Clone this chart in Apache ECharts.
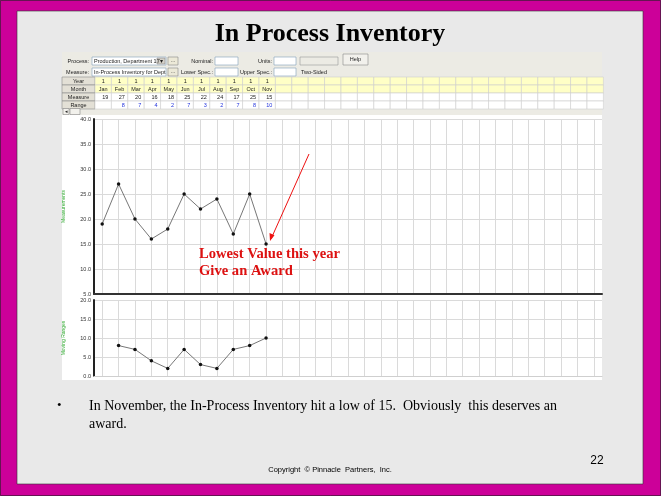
<!DOCTYPE html>
<html>
<head>
<meta charset="utf-8">
<script src="https://cdn.jsdelivr.net/npm/echarts@6/dist/echarts.min.js"></script>
<style>
html, body { margin: 0; padding: 0; background: #cc0099; }
#main { width: 661px; height: 496px; }
</style>
</head>
<body>
<div id="main"></div>
<script>
var months = ["Jan", "Feb", "Mar", "Apr", "May", "Jun", "Jul", "Aug", "Sep", "Oct", "Nov"];
var years = [1, 1, 1, 1, 1, 1, 1, 1, 1, 1, 1];
var measures = [19, 27, 20, 16, 18, 25, 22, 24, 17, 25, 15];
var ranges = [null, 8, 7, 4, 2, 7, 3, 2, 7, 8, 10];
var slotCount = 31;

// category slots: the months, then empty columns to the right
var slots = months.slice();
while (slots.length < slotCount) slots.push("");

var uiFont = "Liberation Sans";
var serif = "Liberation Serif";

function txt(x, y, s, o) {
    o = o || {};
    return {
        type: "text", z: o.z || 1,
        style: {
            text: s, x: x, y: y,
            fontSize: o.size || 5.5, fontFamily: o.family || uiFont,
            fontWeight: o.weight || "normal", fill: o.color || "#222",
            textAlign: o.align || "left", align: o.align || "left",
            textVerticalAlign: "middle", verticalAlign: "middle"
        }
    };
}
function box(x, y, w, h, fill, stroke, z) {
    return {
        type: "rect", z: z || 0,
        shape: { x: x, y: y, width: w, height: h },
        style: { fill: fill, stroke: stroke || null, lineWidth: stroke ? 0.6 : 0 }
    };
}

var g = [];
// slide
g.push(box(0.5, 0.5, 660, 495, "#cc0099", "#222", -5));
g.push(box(17, 11, 626, 473, "#e9e9e9", "#333", -5));
g.push(txt(330, 34, "In Process Inventory", { size: 26, family: serif, weight: "bold", color: "#000", align: "center" }));

// screenshot toolbar
g.push(box(62, 52, 540, 25, "#ecebe4", null, -4));
g.push(txt(89, 61, "Process:", { align: "right" }));
g.push(txt(89, 72, "Measure:", { align: "right" }));
g.push(box(92, 57, 74, 8, "#fff", "#7f9db9", -3));
g.push(txt(94, 61, "Production, Department 17"));
g.push(box(157, 58, 8, 6, "#d4d0c8", "#888", -2));
g.push(txt(161, 61, "\u25BE", { align: "center", size: 6 }));
g.push(box(168, 57, 10, 8, "#ece9d8", "#888", -3));
g.push(txt(173, 60, "...", { align: "center" }));
g.push(box(92, 68, 74, 8, "#fff", "#7f9db9", -3));
g.push(txt(94, 72, "In-Process Inventory for Dept"));
g.push(box(168, 68, 10, 8, "#ece9d8", "#888", -3));
g.push(txt(173, 71, "...", { align: "center" }));
g.push(txt(213, 61, "Nominal:", { align: "right" }));
g.push(box(215, 57, 23, 8, "#fff", "#7f9db9", -3));
g.push(txt(213, 72, "Lower Spec.:", { align: "right" }));
g.push(box(215, 68, 23, 8, "#fff", "#7f9db9", -3));
g.push(txt(272, 61, "Units:", { align: "right" }));
g.push(box(274, 57, 22, 8, "#fff", "#7f9db9", -3));
g.push(txt(272, 72, "Upper Spec.:", { align: "right" }));
g.push(box(274, 68, 22, 8, "#fff", "#7f9db9", -3));
g.push(box(300, 57, 38, 8, "#ecebe4", "#999", -3));
g.push(txt(301, 72, "Two-Sided"));
g.push(box(343, 54, 25, 11, "#f2f1ec", "#888", -3));
g.push(txt(355.5, 59.5, "Help", { align: "center" }));

// screenshot table
var rowTop = [77, 85, 93, 101];
var rowH = 8;
var rowNames = ["Year", "Month", "Measure", "Range"];
var colX = 95, colW = 16.4;
rowNames.forEach(function (name, r) {
    g.push(box(62, rowTop[r], 33, rowH, "#e3e0d6", "#8a8a8a", -3));
    g.push(txt(78.5, rowTop[r] + rowH / 2, name, { align: "center" }));
    for (var i = 0; i < slotCount; i++) {
        g.push(box(colX + i * colW, rowTop[r], colW, rowH, r < 2 ? "#ffffc6" : "#fff", "#cfcfcf", -3));
    }
});
months.forEach(function (m, i) {
    var cx = colX + i * colW + colW / 2;
    g.push(txt(cx, rowTop[0] + 4, String(years[i]), { align: "center" }));
    g.push(txt(cx, rowTop[1] + 4, m, { align: "center" }));
    g.push(txt(cx + colW / 2 - 3, rowTop[2] + 4, String(measures[i]), { align: "right" }));
    if (ranges[i] != null) {
        g.push(txt(cx + colW / 2 - 3, rowTop[3] + 4, String(ranges[i]), { align: "right", color: "#2233dd" }));
    }
});
g.push(box(62, 108, 540, 7, "#ecebe4", null, -4));
g.push(box(63, 108.5, 6, 6, "#f2f1ec", "#888", -3));
g.push(txt(66, 111.5, "\u25C2", { align: "center", size: 5 }));
g.push(box(70, 108.5, 10, 6, "#f2f1ec", "#888", -3));

// plot background
g.push(box(62, 115, 540, 265, "#fff", null, -4));

// annotation
g.push(txt(199, 254, "Lowest Value this year", { size: 14.6, family: serif, weight: "bold", color: "#dd1111", z: 20 }));
g.push(txt(199, 271, "Give an Award", { size: 14.6, family: serif, weight: "bold", color: "#dd1111", z: 20 }));
g.push({ type: "line", z: 20, shape: { x1: 309, y1: 154, x2: 271, y2: 239 }, style: { stroke: "#ee1111", lineWidth: 1 } });
g.push({ type: "polygon", z: 20, shape: { points: [[270, 241], [269.5, 233], [274.5, 235.2]] }, style: { fill: "#ee1111" } });

// bullet and footer
g.push(txt(57, 406, "\u2022", { size: 13, family: serif, color: "#000" }));
g.push(txt(89, 406, "In November, the In-Process Inventory hit a low of 15.  Obviously  this deserves an", { size: 14, family: serif, color: "#000" }));
g.push(txt(89, 424, "award.", { size: 14, family: serif, color: "#000" }));
g.push(txt(330, 470, "Copyright  \u00A9 Pinnacle  Partners,  Inc.", { size: 7.5, color: "#000", align: "center" }));
g.push(txt(597, 461, "22", { size: 12, color: "#000", align: "center" }));

function tickColor(edge, lo, hi) {
    return function (v) { return (v === lo || v === hi) ? edge : "#333"; };
}

var catAxis = function (gi, lineColor, lineWidth) {
    return {
        type: "category", gridIndex: gi, data: slots, boundaryGap: true,
        axisLine: { show: true, lineStyle: { color: lineColor, width: lineWidth } },
        axisTick: { show: false }, axisLabel: { show: false, interval: 0 },
        splitLine: { show: true, interval: 0, alignWithLabel: true, lineStyle: { color: "#dadada", width: 1 } }
    };
};
var valAxis = function (gi, min, max, name, edge) {
    return {
        type: "value", gridIndex: gi, min: min, max: max, interval: 5,
        name: name, nameLocation: "middle", nameGap: 28, nameRotate: 90,
        nameTextStyle: { color: "#33aa33", fontSize: 5, fontFamily: uiFont },
        axisLine: { show: true, lineStyle: { color: "#222", width: 2 } },
        axisTick: { show: false },
        axisLabel: {
            fontSize: 5.5, fontFamily: uiFont, margin: 3, showMinLabel: true, showMaxLabel: true,
            color: tickColor(edge, min, max),
            formatter: function (v) { return v.toFixed(1); }
        },
        splitLine: { show: true, lineStyle: { color: "#dadada", width: 1 } }
    };
};

var option = {
    backgroundColor: "#cc0099",
    animation: false,
    graphic: { elements: g },
    grid: [
        { left: 94, top: 119, width: 508, height: 175 },
        { left: 94, top: 300, width: 508, height: 76 }
    ],
    xAxis: [catAxis(0, "#333", 2), catAxis(1, "#cfcfcf", 1)],
    yAxis: [
        valAxis(0, 5, 40, "Measurements", "#3344ee"),
        valAxis(1, 0, 20, "Moving Ranges", "#33aa33")
    ],
    series: [
        {
            type: "line", xAxisIndex: 0, yAxisIndex: 0, data: measures,
            symbol: "circle", symbolSize: 3.5, z: 5,
            itemStyle: { color: "#111" },
            lineStyle: { color: "#777", width: 1 }
        },
        {
            type: "line", xAxisIndex: 1, yAxisIndex: 1, data: ranges,
            symbol: "circle", symbolSize: 3.5, z: 5, connectNulls: false,
            itemStyle: { color: "#111" },
            lineStyle: { color: "#777", width: 1 }
        }
    ]
};

var myChart = echarts.init(document.getElementById("main"));
myChart.setOption(option);
</script>
</body>
</html>
